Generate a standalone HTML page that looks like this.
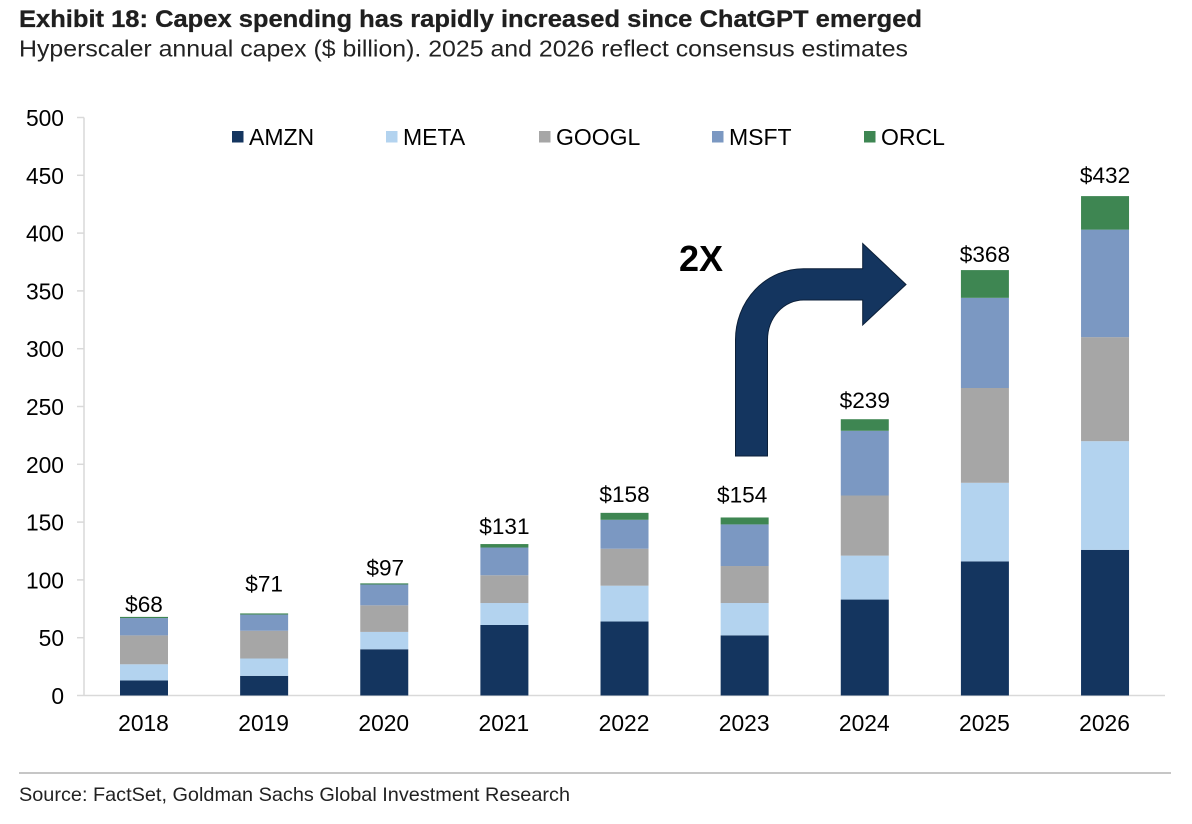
<!DOCTYPE html>
<html lang="en">
<head>
<meta charset="utf-8">
<title>Exhibit 18: Capex spending</title>
<style>
html,body{margin:0;padding:0;background:#fff;width:1192px;height:824px;overflow:hidden}
svg{display:block}
text{font-family:"Liberation Sans",Arial,sans-serif;fill:#000}
</style>
</head>
<body>
<svg id="chart" xmlns="http://www.w3.org/2000/svg" width="1192" height="824" viewBox="0 0 1192 824">
  <text x="19" y="27" font-size="24" font-weight="700" style="fill:#1f1f1f;stroke:#1f1f1f;stroke-width:0.3" textLength="903" lengthAdjust="spacingAndGlyphs">Exhibit 18: Capex spending has rapidly increased since ChatGPT emerged</text>
  <text x="19" y="56.5" font-size="23" style="fill:#222" textLength="889" lengthAdjust="spacingAndGlyphs">Hyperscaler annual capex ($ billion). 2025 and 2026 reflect consensus estimates</text>
  <g id="axes"></g>
  <g id="bars"></g>
  <g id="legend"></g>
  <text x="679" y="271" font-size="36" font-weight="700">2X</text>
  <path d="M735.5 456V340A68 71 0 0 1 803.5 268.7H862.7V243.5L906 284.5L862.7 325V300H803.5A36 40 0 0 0 767.5 340V456Z" fill="#14355f" stroke="#0b1f38" stroke-width="1"/>
  <line x1="19" y1="773" x2="1171" y2="773" stroke="#c6c6c6" stroke-width="2"/>
  <text x="19" y="801" font-size="19.5" style="fill:#222" textLength="551" lengthAdjust="spacingAndGlyphs">Source: FactSet, Goldman Sachs Global Investment Research</text>
</svg>
<script>
const years = ["2018","2019","2020","2021","2022","2023","2024","2025","2026"];
const amzn = [13,17,40,61,64,52,83,116,126];
const meta = [14,15,15,19,31,28,38,68,94];
const googl = [25,24,23,24,32,32,52,82,90];
const msft = [15,14,18,24,25,36,56,78,93];
const orcl = [1,1,1,3,6,6,10,24,29];
const totalLabels = ["$68","$71","$97","$131","$158","$154","$239","$368","$432"];
const yTicks = [0,50,100,150,200,250,300,350,400,450,500];

const seriesNames = ["AMZN","META","GOOGL","MSFT","ORCL"];
const seriesValues = [amzn, meta, googl, msft, orcl];
const seriesColors = ["#14355f","#b3d3ef","#a6a6a6","#7b98c2","#3e8652"];

const NS = "http://www.w3.org/2000/svg";
const plotLeft = 84, plotRight = 1165, plotBottom = 695.5, plotTop = 117.5;
const firstCenter = 144, stepX = 120.13, barWidth = 48;
const labelNudge = {"2018":5,"2019":-12,"2020":2,"2021":0,"2022":-1,"2023":-5,"2024":-1,"2025":2,"2026":-3};
const labelShiftX = {"2020":1,"2023":-2.5};

function yScale(v){ return plotBottom - v * (plotBottom - plotTop) / 500; }
function xScale(i){ return firstCenter + i * stepX; }
function make(tag, attrs, text){
  const el = document.createElementNS(NS, tag);
  for (const k in attrs) el.setAttribute(k, attrs[k]);
  if (text !== undefined) el.textContent = text;
  return el;
}

const axes = document.getElementById("axes");
const yLine = make("line",{x1:plotLeft,y1:plotTop,x2:plotLeft,y2:plotBottom,stroke:"#d9d9d9","stroke-width":1.5});


axes.appendChild(yLine);
const xLine = make("line",{x1:plotLeft,y1:plotBottom,x2:plotRight,y2:plotBottom,stroke:"#d9d9d9","stroke-width":1.5});


axes.appendChild(xLine);

yTicks.forEach(function(t){
  const tick = make("line",{x1:plotLeft-7,y1:yScale(t),x2:plotLeft,y2:yScale(t),stroke:"#d9d9d9","stroke-width":1.5});
  
  
  axes.appendChild(tick);
  const lab = make("text",{x:64,y:yScale(t)+8.5,"text-anchor":"end","font-size":22.8},String(t));
  
  
  axes.appendChild(lab);
});

years.forEach(function(year,i){
  const lab = make("text",{x:xScale(i)-0.5,y:731,"text-anchor":"middle","font-size":22.8},year);
  
  
  axes.appendChild(lab);
});

const bars = document.getElementById("bars");
years.forEach(function(year,i){
  let cum = 0;
  seriesValues.forEach(function(vals,s){
    const y0 = yScale(cum), y1 = yScale(cum + vals[i]);
    const r = make("rect",{x:xScale(i)-barWidth/2,y:y1,width:barWidth,height:y0-y1,fill:seriesColors[s]});
    
    
    bars.appendChild(r);
    cum += vals[i];
  });
  const t = make("text",{x:xScale(i)+(labelShiftX[year]||0),y:yScale(cum)-10+labelNudge[year],"text-anchor":"middle","font-size":22.6},totalLabels[i]);
  
  
  bars.appendChild(t);
});

const legend = document.getElementById("legend");
const legendStarts = [232,386,539,712,864];
seriesNames.forEach(function(name,s){
  const sw = make("rect",{x:legendStarts[s],y:131,width:11.5,height:11.5,fill:seriesColors[s]});
  
  
  legend.appendChild(sw);
  const lab = make("text",{x:legendStarts[s]+17,y:145,"font-size":23},name);
  
  
  legend.appendChild(lab);
});
</script>
</body>
</html>
